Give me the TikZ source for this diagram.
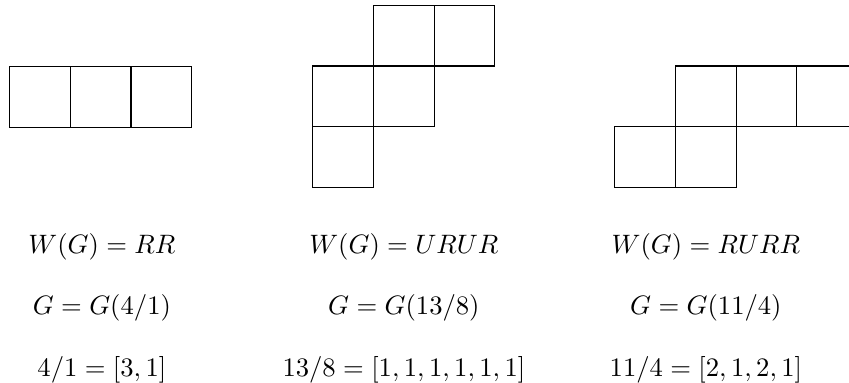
\documentclass[tikz,border=0pt]{standalone}
\begin{document}
\begin{tikzpicture}[x=0.8cm, y=0.8cm, every node/.style={anchor=base, inner sep=0pt}]
  \useasboundingbox (0,0) rectangle (14.0,6.315);
  % G(4/1)
  \foreach \i/\j in {0/0, 1/0, 2/0} {
    \draw (0.16+\i,4.22+\j) rectangle ++(1,1);
  }
  % G(13/8)
  \foreach \i/\j in {0/0, 0/1, 1/1, 1/2, 2/2} {
    \draw (5.16+\i,3.227+\j) rectangle ++(1,1);
  }
  % G(11/4)
  \foreach \i/\j in {0/0, 1/0, 1/1, 2/1, 3/1} {
    \draw (10.14+\i,3.227+\j) rectangle ++(1,1);
  }
  \node (wa) at (1.68,2.143) {$W(G) = RR$};
  \node (ga) at (1.68,1.121) {$G = G(4/1)$};
  \node (ca) at (1.68,0.099) {$4/1 = [3,1]$};
  \node (wb) at (6.66,2.143) {$W(G) = URUR$};
  \node (gb) at (6.66,1.121) {$G = G(13/8)$};
  \node (cb) at (6.66,0.099) {$13/8 = [1,1,1,1,1,1]$};
  \node (wc) at (11.64,2.143) {$W(G) = RURR$};
  \node (gc) at (11.64,1.121) {$G = G(11/4)$};
  \node (cc) at (11.64,0.099) {$11/4 = [2,1,2,1]$};
\end{tikzpicture}
\end{document}
